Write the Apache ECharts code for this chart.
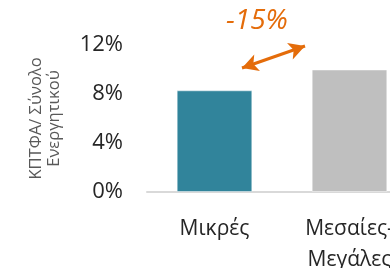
<!DOCTYPE html>
<html>
<head>
<meta charset="utf-8">
<script src="https://cdn.jsdelivr.net/npm/echarts@6/dist/echarts.min.js"></script>
<style>
  html, body { margin: 0; padding: 0; background: #fff; }
  #chart { width: 390px; height: 268px; }
</style>
</head>
<body>
<div id="chart"></div>
<script>
  // data
  const categories = ['Μικρές', 'Μεσαίες-\nΜεγάλες']
  const ratios = [8.3, 10.0]
  const barColors = ['#31849B', '#BFBFBF']
  const yTicks = [0, 4, 8, 12]
  const diffLabel = '-15%'

  const myChart = echarts.init(document.getElementById('chart'))
  const fontFam = '"Open Sans", "Noto Sans", sans-serif'

  let option = {
    animation: false,
    grid: {
      left: 147,
      right: -27,
      top: 45,
      bottom: 76,
      outerBoundsMode: 'none',
      containLabel: false
    },
    xAxis: {
      type: 'category',
      data: categories,
      axisLine: { lineStyle: { color: '#D9D9D9', width: 2 } },
      axisTick: { show: false },
      axisLabel: {
        color: '#262626',
        fontSize: 21,
        fontFamily: fontFam,
        margin: 22,
        lineHeight: 31
      }
    },
    yAxis: {
      type: 'value',
      min: yTicks[0],
      max: yTicks[yTicks.length - 1],
      interval: 4,
      splitLine: { show: false },
      axisLine: { show: false },
      axisTick: { show: false },
      axisLabel: {
        color: '#262626',
        fontSize: 22,
        fontFamily: fontFam,
        margin: 24,
        formatter: v => v + '%'
      },
      name: 'ΚΠΤΦΑ/ Σύνολο\nΕνεργητικού',
      nameLocation: 'middle',
      nameGap: 84,
      nameRotate: 90,
      nameTextStyle: {
        color: '#595959',
        fontSize: 16.5,
        fontFamily: fontFam,
        lineHeight: 18
      }
    },
    series: [{
      type: 'bar',
      barWidth: '56%',
      data: ratios.map((v, i) => ({
        value: v,
        itemStyle: { color: barColors[i], borderColor: 'rgba(255,255,255,0.45)', borderWidth: 1 }
      })),
      markLine: {
        silent: true,
        symbol: ['arrow', 'arrow'],
        symbolSize: [13, 16],
        lineStyle: { color: '#E46C0A', width: 3, type: 'solid' },
        label: { show: false },
        data: [[{ x: 242, y: 68 }, { x: 305, y: 46 }]]
      }
    }],
    graphic: [{
      type: 'text',
      left: 226,
      top: 7,
      style: {
        text: diffLabel,
        fill: '#E46C0A',
        fontSize: 28,
        fontStyle: 'italic',
        fontFamily: fontFam
      }
    }]
  }

  myChart.setOption(option)
</script>
</body>
</html>
